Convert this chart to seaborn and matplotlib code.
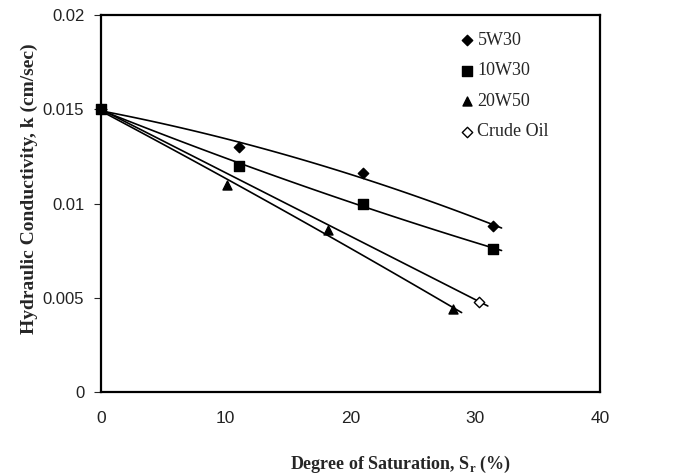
import numpy as np
import pandas as pd
import matplotlib
matplotlib.use("Agg")
import matplotlib.pyplot as plt
import seaborn as sns

# Measured hydraulic conductivity vs degree of saturation for each contaminant
sat_5w30 = [0.0, 11.1, 21.0, 31.4]
k_5w30 = [0.0150, 0.0130, 0.0116, 0.0088]
sat_10w30 = [0.0, 11.1, 21.0, 31.4]
k_10w30 = [0.0150, 0.0120, 0.0100, 0.0076]
sat_20w50 = [0.0, 10.1, 18.2, 28.2]
k_20w50 = [0.0150, 0.0110, 0.0086, 0.0044]
sat_crude = [0.0, 30.3]
k_crude = [0.0150, 0.0048]

x_ticks = [0, 10, 20, 30, 40]
y_ticks = [0, 0.005, 0.01, 0.015, 0.02]
y_tick_labels = ["0", "0.005", "0.01", "0.015", "0.02"]

series = [
    ("5W30", sat_5w30, k_5w30, "D", "black", 2, 6),
    ("10W30", sat_10w30, k_10w30, "s", "black", 2, 7),
    ("20W50", sat_20w50, k_20w50, "^", "black", 2, 5),
    ("Crude Oil", sat_crude, k_crude, "D", "white", 1, 4),
]

sns.set_style("white")
plt.rcParams["font.family"] = ["Liberation Serif", "DejaVu Serif"]

fig = plt.figure(figsize=(6.82, 4.74), dpi=100)
ax = fig.add_axes([0.148, 0.173, 0.732, 0.795])

for name, xs, ys, marker, face, deg, z in series:
    # polynomial trendline through the measurements
    coef = np.polyfit(xs, ys, deg)
    xf = np.linspace(0, xs[-1] + 0.7, 60)
    trend = pd.DataFrame({"x": xf, "y": np.polyval(coef, xf)})
    sns.lineplot(data=trend, x="x", y="y", ax=ax, color="black", lw=1.2)
    pts = pd.DataFrame({"x": xs, "y": ys})
    size = 28 if marker == "D" else 42
    sns.scatterplot(data=pts, x="x", y="y", ax=ax, marker=marker, s=size,
                    color=face, edgecolor="black", linewidth=1.0,
                    label=name, zorder=z, clip_on=False)

ax.set_xlim(0, 40)
ax.set_ylim(0, 0.02)
ax.set_xticks(x_ticks)
ax.set_yticks(y_ticks)
ax.set_yticklabels(y_tick_labels)
ax.tick_params(axis="x", length=0, pad=14, labelsize=12.5)
ax.tick_params(axis="y", length=5, direction="out", left=True, pad=7, labelsize=12)
for lab in ax.get_xticklabels() + ax.get_yticklabels():
    lab.set_fontfamily(["Liberation Sans", "DejaVu Sans"])
    lab.set_color("#222222")

for sp in ax.spines.values():
    sp.set_color("black")
    sp.set_linewidth(1.6)

ax.set_xlabel("Degree of Saturation, S$_\\mathregular{r}$ (%)", fontsize=13,
              fontweight="bold")
ax.xaxis.set_label_coords(0.60, -0.165)
ax.set_ylabel("Hydraulic Conductivity, k (cm/sec)", fontsize=14,
              fontweight="bold")
ax.yaxis.set_label_coords(-0.126, 0.54)

leg = ax.legend(loc="upper left", bbox_to_anchor=(0.70, 0.975), frameon=False,
                fontsize=13, handletextpad=0.1, labelspacing=0.75,
                borderaxespad=0.0, handlelength=1.0, markerscale=1.0)

fig.savefig("out.png", dpi=100)
